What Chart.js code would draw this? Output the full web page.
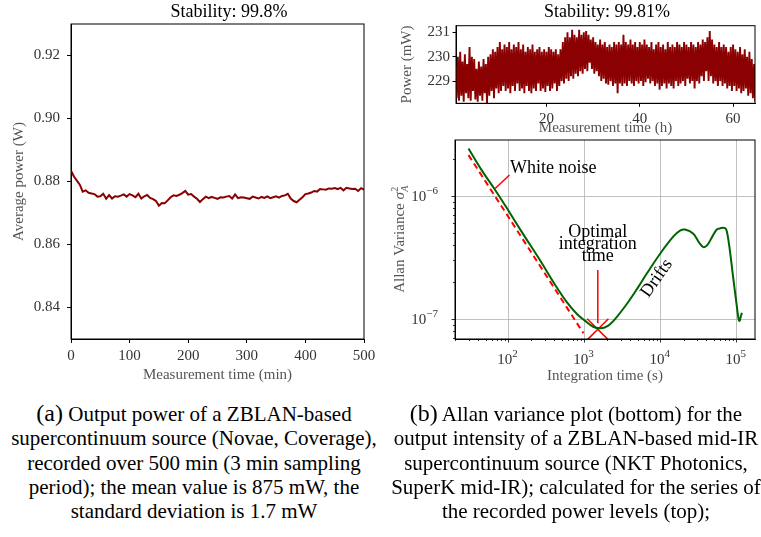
<!DOCTYPE html>
<html>
<head>
<meta charset="utf-8">
<script src="https://cdn.jsdelivr.net/npm/chart.js@4.4.1/dist/chart.umd.min.js"></script>
<style>
  body { margin:0; background:#fff; width:761px; height:537px; position:relative; overflow:hidden; font-family:'Liberation Serif', serif; }
  .box { position:absolute; }
  .cap { position:absolute; top:401px; text-align:center; font-size:21px; line-height:24.3px; color:#000; white-space:nowrap; }
  .cap .lab { font-size:24px; }
</style>
</head>
<body>
<div class="box" style="left:0;top:0"><canvas id="chartA" width="380" height="392"></canvas></div>
<div class="box" style="left:385px;top:0"><canvas id="chartB" width="376" height="140"></canvas></div>
<div class="box" style="left:385px;top:136px"><canvas id="chartC" width="376" height="256"></canvas></div>

<div class="cap" style="left:0;width:388px"><span class="lab">(a)</span> Output power of a ZBLAN-based<br>supercontinuum source (Novae, Coverage),<br>recorded over 500 min (3 min sampling<br>period); the mean value is 875 mW, the<br>standard deviation is 1.7 mW</div>
<div class="cap" style="left:376px;width:400px"><span class="lab">(b)</span> Allan variance plot (bottom) for the<br>output intensity of a ZBLAN-based mid-IR<br>supercontinuum source (NKT Photonics,<br>SuperK mid-IR); calculated for the series of<br>the recorded power levels (top);</div>

<script>
const SERIF = "'Liberation Serif', 'DejaVu Serif', serif";

// (a) average power, one reading every 5 min
const stepMin = 5;
const avgPowerW = [
  0.8834, 0.8816, 0.8803, 0.8790, 0.8768, 0.8772, 0.8764, 0.8762, 0.8760, 0.8752,
  0.8753, 0.8761, 0.8745, 0.8757, 0.8746, 0.8753, 0.8752, 0.8755, 0.8759, 0.8752,
  0.8760, 0.8756, 0.8750, 0.8761, 0.8746, 0.8753, 0.8757, 0.8748, 0.8744, 0.8738,
  0.8723, 0.8732, 0.8731, 0.8740, 0.8750, 0.8756, 0.8754, 0.8758, 0.8763, 0.8770,
  0.8758, 0.8760, 0.8752, 0.8745, 0.8735, 0.8744, 0.8752, 0.8747, 0.8751, 0.8748,
  0.8745, 0.8750, 0.8749, 0.8752, 0.8754, 0.8746, 0.8759, 0.8747, 0.8750, 0.8749,
  0.8747, 0.8745, 0.8752, 0.8749, 0.8746, 0.8751, 0.8748, 0.8753, 0.8747, 0.8750,
  0.8753, 0.8749, 0.8754, 0.8756, 0.8761, 0.8746, 0.8738, 0.8734, 0.8742, 0.8750,
  0.8760, 0.8762, 0.8765, 0.8770, 0.8768, 0.8776, 0.8775, 0.8774, 0.8778, 0.8777,
  0.8779, 0.8776, 0.8780, 0.8772, 0.8780, 0.8778, 0.8776, 0.8777, 0.8770, 0.8779,
  0.8774
];
const xTicksA = [0, 100, 200, 300, 400, 500];
const yTicksA = [0.84, 0.86, 0.88, 0.90, 0.92];

// (b top) recorded power, highest / lowest reading in each half hour
const firstHour = 0.5, stepHour = 0.5;
const powerHi = [
  229.6, 230.0, 230.2, 229.8, 230.1, 229.7, 230.4, 230.0, 229.9, 229.5,
  229.8, 229.6, 229.9, 229.7, 230.0, 230.1, 230.3, 230.2, 230.4, 230.6,
  230.3, 230.5, 230.4, 230.6, 230.3, 230.5, 230.4, 230.6, 230.3, 230.5,
  230.2, 230.4, 230.3, 230.5, 230.2, 230.3, 230.4, 230.2, 230.3, 230.2,
  230.4, 230.3, 230.2, 230.3, 230.1, 230.3, 230.6, 230.8, 231.0, 230.8,
  231.1, 230.9, 230.8, 231.1, 230.9, 231.0, 231.05, 230.9, 230.7, 230.8,
  230.6, 230.5, 230.7, 230.5, 230.6, 230.4, 230.5, 230.4, 230.6, 230.5,
  230.6, 230.5, 230.9, 230.6, 230.5, 230.7, 230.5, 230.6, 230.4, 230.6,
  230.5, 230.7, 230.5, 230.4, 230.6, 230.3, 230.5, 230.6, 230.4, 230.5,
  230.3, 230.6, 230.4, 230.5, 230.4, 230.6, 230.5, 230.4, 230.6, 230.5,
  230.4, 230.6, 230.5, 230.4, 230.6, 230.5, 230.7, 230.6, 230.8, 231.05,
  230.7, 230.5, 230.4, 230.6, 230.4, 230.5, 230.4, 230.2, 230.4, 230.5,
  230.3, 230.2, 230.4, 230.1, 230.3, 230.0, 230.2, 229.9, 229.7
];
const powerLo = [
  228.3, 228.2, 228.4, 228.15, 228.5, 228.3, 228.2, 228.6, 228.25, 228.15,
  228.4, 228.2, 228.5, 228.1, 228.4, 228.6, 228.3, 228.7, 228.5, 228.6,
  228.8, 228.6, 228.7, 228.5, 228.8, 228.6, 228.9, 228.6, 228.7, 228.5,
  228.8, 228.6, 228.5, 228.7, 228.6, 228.9, 228.6, 228.7, 228.55, 228.8,
  228.6, 228.7, 228.9, 228.6, 228.8, 229.0, 228.9, 229.1, 229.0, 229.2,
  229.1, 229.3, 229.2, 229.4, 229.3, 229.5, 229.4, 229.75, 229.5, 229.3,
  229.4, 229.2, 229.0, 229.1, 228.9, 228.85, 229.0, 228.8, 228.9, 228.5,
  228.9, 228.8, 228.9, 228.8, 229.0, 228.9, 228.8, 229.0, 228.9, 229.0,
  228.8, 228.95, 229.1, 228.9, 229.0, 228.8, 228.9, 228.65, 228.8, 228.9,
  228.7, 228.9, 228.8, 228.7, 229.0, 228.8, 228.9, 229.0, 228.8, 229.1,
  228.9, 229.0, 228.7, 229.0, 228.9, 229.2, 229.0, 229.4, 229.0, 229.2,
  228.9, 229.0, 228.8, 229.0, 228.8, 228.9, 228.7, 228.8, 228.6, 228.8,
  228.6, 228.7, 228.5, 228.6, 228.7, 228.4, 228.5, 228.3, 228.15
];
const xTicksB = [20, 40, 60];
const yTicksB = [229, 230, 231];

// (b bottom) Allan variance
const avTau = [29.8, 45, 66.8, 100, 150, 261, 400, 584, 800, 1000, 1300, 1604, 2000, 2500, 3590, 5000,
  6580, 10000, 14720, 18000, 21000, 26900, 32000, 36460, 41000, 47000, 54700, 62000, 70300, 74000,
  80000, 90600, 100000, 106000, 109000, 113000, 117000];
const avVar = [2.43e-6, 1.6e-6, 1.12e-6, 7.6e-7, 5.1e-7, 3.0e-7, 1.95e-7, 1.38e-7, 1.1e-7, 9.8e-8, 8.7e-8, 8.45e-8, 8.8e-8, 1.0e-7, 1.33e-7, 1.8e-7,
  2.35e-7, 3.45e-7, 4.7e-7, 5.25e-7, 5.35e-7, 4.95e-7, 4.2e-7, 3.85e-7, 4.0e-7, 4.6e-7, 5.35e-7, 5.5e-7, 5.5e-7, 5.2e-7,
  3.9e-7, 2.1e-7, 1.3e-7, 1.0e-7, 9.7e-8, 1.05e-7, 1.13e-7];
const whiteTau = [29.8, 967];
const whiteVar = [2.15e-6, 7.7e-8];
const optimalTau = 1493, optimalVar = 8.3e-8;
const xTicksC = [1e2, 1e3, 1e4, 1e5];
const yTicksC = [1e-7, 1e-6];

const frame = {
  id: 'frame',
  afterDraw(chart) {
    const {ctx, chartArea: a} = chart;
    ctx.save();
    ctx.strokeStyle = '#000';
    ctx.lineWidth = 1;
    ctx.strokeRect(a.left, a.top, a.right - a.left, a.bottom - a.top);
    ctx.restore();
  }
};

// title above the plot box, slightly off-centre as in the figure
const topTitle = {
  id: 'topTitle',
  afterDraw(chart, args, opts) {
    const {ctx, chartArea: a} = chart;
    ctx.save();
    ctx.font = '18px ' + SERIF;
    ctx.fillStyle = '#000';
    ctx.textAlign = 'center';
    ctx.textBaseline = 'middle';
    ctx.fillText(opts.text, (a.left + a.right) / 2 + opts.shift, opts.y);
    ctx.restore();
  }
};

function tickFont() { return {family: SERIF, size: 15}; }

// ---------- (a) ----------
new Chart(document.getElementById('chartA'), {
  type: 'line',
  data: {
    datasets: [{
      data: avgPowerW.map((v, i) => ({x: i * stepMin, y: v})),
      borderColor: '#8b0000', borderWidth: 2, pointRadius: 0, tension: 0
    }]
  },
  options: {
    responsive: false, animation: false,
    layout: {autoPadding: false, padding: {left: 0, right: 16, top: 24, bottom: 0}},
    plugins: {
      legend: {display: false}, tooltip: {enabled: false},
      topTitle: {text: 'Stability: 99.8%', shift: 11.5, y: 12}
    },
    scales: {
      x: {
        type: 'linear', min: 0, max: 500,
        afterBuildTicks: s => { s.ticks = xTicksA.map(v => ({value: v})); },
        afterFit: s => { s.height = 53; },
        grid: {drawOnChartArea: false, tickLength: 4, color: '#000', tickColor: '#000'},
        border: {color: '#000'},
        ticks: {font: tickFont(), color: '#333', padding: 4, maxRotation: 0, autoSkip: false},
        title: {display: true, text: 'Measurement time (min)', font: tickFont(), color: '#555', padding: {top: 0, bottom: 8}}
      },
      y: {
        min: 0.83, max: 0.93,
        afterBuildTicks: s => { s.ticks = yTicksA.map(v => ({value: v})); },
        afterFit: s => { s.width = 71; },
        grid: {drawOnChartArea: false, tickLength: 4, color: '#000', tickColor: '#000'},
        border: {color: '#000'},
        ticks: {font: tickFont(), color: '#333', padding: 7, autoSkip: false, callback: v => v.toFixed(2)},
        title: {display: true, text: 'Average power (W)', font: tickFont(), color: '#555', padding: {top: 10, bottom: 0}}
      }
    }
  },
  plugins: [frame, topTitle]
});

// ---------- (b) top ----------
const noisePts = [];
powerHi.forEach((hi, i) => {
  const h = firstHour + i * stepHour;
  noisePts.push({x: h, y: hi});
  noisePts.push({x: h + stepHour / 2, y: powerLo[i]});
});

new Chart(document.getElementById('chartB'), {
  type: 'line',
  data: {
    datasets: [{data: noisePts, borderColor: '#8b0000', borderWidth: 1.9, pointRadius: 0, tension: 0}]
  },
  options: {
    responsive: false, animation: false,
    layout: {autoPadding: false, padding: {left: 0, right: 6, top: 25.7, bottom: 0}},
    plugins: {
      legend: {display: false}, tooltip: {enabled: false},
      topTitle: {text: 'Stability: 99.81%', shift: 1.5, y: 12.5}
    },
    scales: {
      x: {
        type: 'linear', min: 0.6, max: 64.7,
        afterBuildTicks: s => { s.ticks = xTicksB.map(v => ({value: v})); },
        afterFit: s => { s.height = 36.7; },
        grid: {drawOnChartArea: false, tickLength: 3.5, color: '#000', tickColor: '#000'},
        border: {color: '#000'},
        ticks: {font: tickFont(), color: '#333', padding: 3, maxRotation: 0, autoSkip: false},
        title: {display: true, text: 'Measurement time (h)', font: tickFont(), color: '#555', padding: {top: 0, bottom: 3}}
      },
      y: {
        min: 228.09, max: 231.27,
        afterBuildTicks: s => { s.ticks = yTicksB.map(v => ({value: v})); },
        afterFit: s => { s.width = 71; },
        grid: {drawOnChartArea: false, tickLength: 3.5, color: '#000', tickColor: '#000'},
        border: {color: '#000'},
        ticks: {font: tickFont(), color: '#333', padding: 2.5, autoSkip: false},
        title: {display: true, text: 'Power (mW)', font: tickFont(), color: '#555', padding: {top: 13.5, bottom: 0}}
      }
    }
  },
  plugins: [frame, topTitle]
});

// ---------- (b) bottom ----------
function drawPow(ctx, exp, x, y, align) {
  ctx.font = '15px ' + SERIF;
  const bw = ctx.measureText('10').width;
  ctx.font = '11px ' + SERIF;
  const ew = ctx.measureText(exp).width;
  const left = align === 'right' ? x - bw - ew : x - (bw + ew) / 2;
  ctx.textAlign = 'left';
  ctx.textBaseline = 'middle';
  ctx.font = '15px ' + SERIF;
  ctx.fillText('10', left, y);
  ctx.font = '11px ' + SERIF;
  ctx.fillText(exp, left + bw, y - 6);
}

const logDecor = {
  id: 'logDecor',
  afterDraw(chart) {
    const {ctx, chartArea: a} = chart;
    const xs = chart.scales.x, ys = chart.scales.y;
    ctx.save();
    // minor ticks
    ctx.strokeStyle = '#000';
    ctx.lineWidth = 0.8;
    ctx.beginPath();
    for (let d = 1; d <= 5; d++) {
      for (let m = 2; m <= 9; m++) {
        const v = m * Math.pow(10, d);
        if (v < xs.min || v > xs.max) continue;
        const px = Math.round(xs.getPixelForValue(v)) + 0.5;
        ctx.moveTo(px, a.bottom); ctx.lineTo(px, a.bottom + 2);
      }
    }
    for (let d = -8; d <= -6; d++) {
      for (let m = 2; m <= 9; m++) {
        const v = m * Math.pow(10, d);
        if (v < ys.min || v > ys.max) continue;
        const py = Math.round(ys.getPixelForValue(v)) + 0.5;
        ctx.moveTo(a.left, py); ctx.lineTo(a.left - 2, py);
      }
    }
    ctx.stroke();
    // tick labels
    ctx.fillStyle = '#333';
    xTicksC.forEach(v => drawPow(ctx, String(Math.round(Math.log10(v))), xs.getPixelForValue(v) - 1, a.bottom + 21, 'center'));
    yTicksC.forEach(v => drawPow(ctx, '\u2212' + String(-Math.round(Math.log10(v))), a.left - 17, ys.getPixelForValue(v) + 1, 'right'));
    // y axis title
    ctx.translate(15, (a.top + a.bottom) / 2);
    ctx.rotate(-Math.PI / 2);
    ctx.fillStyle = '#555';
    ctx.textBaseline = 'middle';
    ctx.textAlign = 'left';
    ctx.font = '15px ' + SERIF;
    const t1 = 'Allan Variance ';
    const w1 = ctx.measureText(t1).width;
    ctx.font = 'italic 15px ' + SERIF;
    const w2 = ctx.measureText('\u03c3').width;
    ctx.font = '10px ' + SERIF;
    const w3 = ctx.measureText('2').width;
    const x0 = -(w1 + w2 + w3 + 1) / 2;
    ctx.font = '15px ' + SERIF;
    ctx.fillText(t1, x0, 0);
    ctx.font = 'italic 15px ' + SERIF;
    ctx.fillText('\u03c3', x0 + w1, 0);
    ctx.font = '10px ' + SERIF;
    ctx.fillText('2', x0 + w1 + w2 + 0.5, -5);
    ctx.font = 'italic 10px ' + SERIF;
    ctx.fillText('A', x0 + w1 + w2 + 0.5, 5);
    ctx.restore();
  }
};

const notes = {
  id: 'notes',
  afterDatasetsDraw(chart) {
    const {ctx} = chart;
    const xs = chart.scales.x, ys = chart.scales.y;
    const P = (tx, vy) => [xs.getPixelForValue(tx), ys.getPixelForValue(vy)];
    ctx.save();
    ctx.fillStyle = '#000';
    ctx.font = '18px ' + SERIF;
    ctx.textBaseline = 'middle';
    ctx.textAlign = 'left';
    let [x, y] = P(105, 1.67e-6);
    ctx.fillText('White noise', x, y);
    ctx.textAlign = 'center';
    [['Optimal', 5.1e-7], ['integration', 4.08e-7], ['time', 3.26e-7]].forEach(([s, v]) => {
      [x, y] = P(optimalTau, v);
      ctx.fillText(s, x, y);
    });
    [x, y] = P(8890, 2.15e-7);
    ctx.translate(x, y);
    ctx.rotate(-55 * Math.PI / 180);
    ctx.fillText('Drifts', 0, 0);
    ctx.restore();
  }
};

new Chart(document.getElementById('chartC'), {
  type: 'line',
  data: {
    datasets: [
      {data: avTau.map((t, i) => ({x: t, y: avVar[i]})), borderColor: '#006400', borderWidth: 2, pointRadius: 0, tension: 0.35},
      {data: whiteTau.map((t, i) => ({x: t, y: whiteVar[i]})), borderColor: '#ff0000', borderWidth: 2, borderDash: [6, 4], pointRadius: 0},
      {data: [{x: 66.8, y: 1.15e-6}, {x: 103, y: 1.48e-6}], borderColor: '#ff0000', borderWidth: 1.5, pointRadius: 0},
      {data: [{x: optimalTau, y: 2.51e-7}, {x: optimalTau, y: 9.3e-8}], borderColor: '#ff0000', borderWidth: 1.5, pointRadius: 0},
      {data: [{x: optimalTau, y: optimalVar}], showLine: false, pointStyle: 'crossRot', pointRadius: 15,
        pointBorderColor: '#ff0000', pointBorderWidth: 1.5, clip: false}
    ]
  },
  options: {
    responsive: false, animation: false,
    layout: {autoPadding: false, padding: {left: 0, right: 6, top: 4, bottom: 0}},
    plugins: {legend: {display: false}, tooltip: {enabled: false}},
    scales: {
      x: {
        type: 'logarithmic', min: 19.8, max: 1.74e5,
        afterBuildTicks: s => { s.ticks = xTicksC.map(v => ({value: v})); },
        afterFit: s => { s.height = 53; },
        grid: {color: '#b0b0b0', lineWidth: 0.8, tickLength: 3.5, tickColor: '#000', tickWidth: 0.8},
        border: {color: '#000'},
        ticks: {display: false, autoSkip: false},
        title: {display: true, text: 'Integration time (s)', font: tickFont(), color: '#555', padding: {top: 0, bottom: 7}}
      },
      y: {
        type: 'logarithmic', min: 6.92e-8, max: 2.85e-6,
        afterBuildTicks: s => { s.ticks = yTicksC.map(v => ({value: v})); },
        afterFit: s => { s.width = 70; },
        grid: {color: '#b0b0b0', lineWidth: 0.8, tickLength: 3.5, tickColor: '#000', tickWidth: 0.8},
        border: {color: '#000'},
        ticks: {display: false, autoSkip: false}
      }
    }
  },
  plugins: [frame, logDecor, notes]
});
</script>
</body>
</html>
